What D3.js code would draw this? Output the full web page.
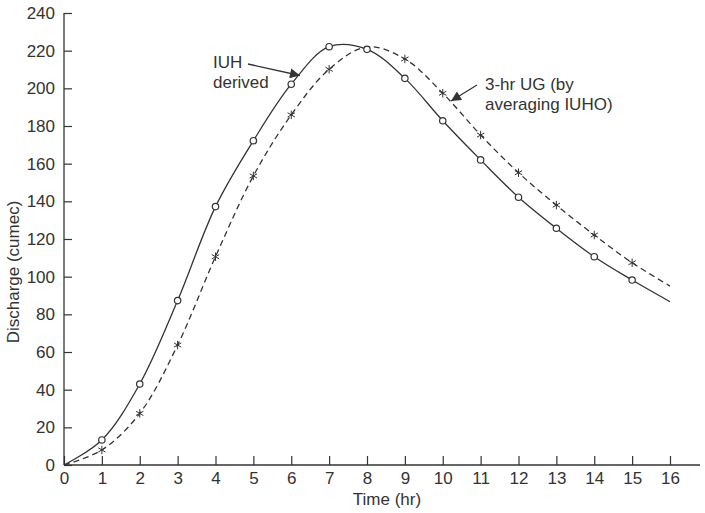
<!DOCTYPE html>
<html>
<head>
<meta charset="utf-8">
<script src="https://cdn.jsdelivr.net/npm/d3@7"></script>
<style>
  html, body { margin: 0; padding: 0; background: #fff; }
  svg text { font-family: "Liberation Sans", Arial, sans-serif; fill: #333; }
</style>
</head>
<body>
<svg id="chart" width="705" height="513"></svg>
<script>
// Time axis (hr) and discharge ordinates (cumec)
const hours = [0, 1, 2, 3, 4, 5, 6, 7, 8, 9, 10, 11, 12, 13, 14, 15, 16];
const iuhDerived = [0, 13.3, 43, 87.3, 137.2, 172.2, 202.2, 222.1, 220.7, 205.3, 182.8, 162, 142.2, 125.7, 110.6, 98.2, 86.7];
const ug3hr = [0, 8, 27.4, 63.7, 110.6, 153.5, 185.9, 210.1, 222, 215.6, 197.4, 175.2, 155.2, 138, 122.1, 107.4, 95];
// hours where plotted points are marked
const iuhMarkedHours = [1, 2, 3, 4, 5, 6, 7, 8, 9, 10, 11, 12, 13, 14, 15];
const ugMarkedHours = [1, 2, 3, 4, 5, 6, 7, 9, 10, 11, 12, 13, 14, 15];
const xTicks = d3.range(0, 17);
const yTicks = d3.range(0, 241, 20);

const ink = "#333";
const fontSize = 17;
const svg = d3.select("#chart");

const x = d3.scaleLinear().domain([0, 16]).range([64, 670]);
const y = d3.scaleLinear().domain([0, 240]).range([465, 13]);

// Axes: ticks point inward
const xAxis = d3.axisBottom(x).tickValues(xTicks).tickSizeInner(-9).tickSizeOuter(0).tickPadding(7);
const yAxis = d3.axisLeft(y).tickValues(yTicks).tickSizeInner(-8).tickSizeOuter(0).tickPadding(9);

const gx = svg.append("g").attr("transform", `translate(0,${y(0)})`).call(xAxis);
gx.select(".domain").remove();
gx.append("line").attr("x1", x(0)).attr("x2", 700).attr("y1", 0).attr("y2", 0)
  .attr("stroke", ink).attr("stroke-width", 1.3);
gx.selectAll(".tick line").attr("stroke", ink).attr("stroke-width", 1.2);
gx.selectAll(".tick text").attr("font-size", fontSize).attr("fill", ink)
  .style("font-family", "'Liberation Sans', Arial, sans-serif");

const gy = svg.append("g").attr("transform", `translate(${x(0)},0)`).call(yAxis);
gy.select(".domain").attr("stroke", ink).attr("stroke-width", 1.3).attr("d", `M0,${y(240)}V${y(0)}`);
gy.selectAll(".tick line").attr("stroke", ink).attr("stroke-width", 1.2);
gy.selectAll(".tick text").attr("font-size", fontSize).attr("fill", ink)
  .style("font-family", "'Liberation Sans', Arial, sans-serif");

// Axis titles
svg.append("text").attr("x", 387).attr("y", 505).attr("text-anchor", "middle")
  .attr("font-size", fontSize).text("Time (hr)");
svg.append("text").attr("transform", "translate(19,272) rotate(-90)").attr("text-anchor", "middle")
  .attr("font-size", fontSize).text("Discharge (cumec)");

// Curves
const line = d3.line()
  .x((d, i) => x(hours[i]))
  .y(d => y(d))
  .curve(d3.curveCatmullRom.alpha(0.5));

svg.append("path").datum(ug3hr).attr("d", line)
  .attr("fill", "none").attr("stroke", ink).attr("stroke-width", 1.3)
  .attr("stroke-dasharray", "6,4");

svg.append("path").datum(iuhDerived).attr("d", line)
  .attr("fill", "none").attr("stroke", ink).attr("stroke-width", 1.3);

// Markers
const star = d3.symbol().type(d3.symbolAsterisk).size(50);
svg.append("g").selectAll("path").data(ugMarkedHours).join("path")
  .attr("transform", h => `translate(${x(h)},${y(ug3hr[hours.indexOf(h)])})`)
  .attr("d", star).attr("fill", "none").attr("stroke", ink).attr("stroke-width", 1);

svg.append("g").selectAll("circle").data(iuhMarkedHours).join("circle")
  .attr("cx", h => x(h)).attr("cy", h => y(iuhDerived[hours.indexOf(h)]))
  .attr("r", 3.2).attr("fill", "#fff").attr("stroke", ink).attr("stroke-width", 1.2);

// Annotations with arrows
svg.append("defs").append("marker")
  .attr("id", "head").attr("viewBox", "0 0 10 10").attr("refX", 10).attr("refY", 5)
  .attr("markerWidth", 12).attr("markerHeight", 10).attr("markerUnits", "userSpaceOnUse")
  .attr("orient", "auto")
  .append("path").attr("d", "M0,0L10,5L0,10Z").attr("fill", ink);

svg.append("text").attr("x", 213).attr("y", 68).attr("font-size", fontSize).text("IUH");
svg.append("text").attr("x", 213).attr("y", 88).attr("font-size", fontSize).text("derived");
svg.append("line").attr("x1", 248).attr("y1", 64).attr("x2", 300).attr("y2", 75.5)
  .attr("stroke", ink).attr("stroke-width", 1.3).attr("marker-end", "url(#head)");

svg.append("text").attr("x", 485).attr("y", 90).attr("font-size", fontSize).text("3-hr UG (by");
svg.append("text").attr("x", 485).attr("y", 110).attr("font-size", fontSize).text("averaging IUHO)");
svg.append("line").attr("x1", 477).attr("y1", 85).attr("x2", 451).attr("y2", 101)
  .attr("stroke", ink).attr("stroke-width", 1.3).attr("marker-end", "url(#head)");
</script>
</body>
</html>
